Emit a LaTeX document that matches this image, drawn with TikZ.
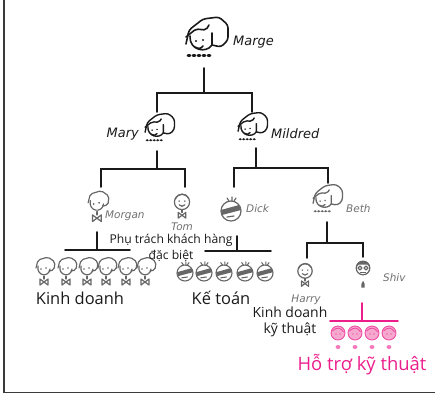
\documentclass[tikz,border=0pt]{standalone}
\usepackage{fontspec}
\setmainfont{Open Sans}
\newfontfamily\handfont{DejaVu Sans}
\definecolor{ink}{HTML}{1A1A1A}
\definecolor{pencil}{HTML}{666666}
\definecolor{namegray}{HTML}{707070}
\definecolor{hot}{HTML}{EC1E8C}
\definecolor{blush}{HTML}{F6A9CE}
\definecolor{framegray}{HTML}{3A3A3A}
\begin{document}
\begin{tikzpicture}[x=1bp,y=-1bp,
  wire/.style={ink, line width=1.9pt, line cap=round},
  pinkwire/.style={hot, line width=1.9pt, line cap=round},
  fig/.style={line join=round, line cap=round},
  who/.style={namegray, font=\handfont\itshape\fontsize{10.5}{11}\selectfont, inner sep=0pt},
  bigwho/.style={ink, font=\handfont\itshape\fontsize{13}{14}\selectfont, inner sep=0pt},
  dept/.style={ink, font=\fontsize{16.5}{18}\selectfont, inner sep=0pt},
  subdept/.style={ink, font=\fontsize{14}{16}\selectfont, inner sep=0pt, align=center},
  note/.style={ink, font=\fontsize{12.2}{16}\selectfont, inner sep=0pt, align=center},
  % woman with big hair and a dotted collar
  lady/.pic={
    \draw[fig, rounded corners=3pt] (-17,6) -- (-14,-8) -- (0,-19) -- (16,-21) -- (25,-13) -- (25,2) -- (18,9) -- (9,7);
    \draw[fig, rounded corners=2pt] (-17,-1) -- (-7,-9) -- (3,-8) -- (6,-13);
    \draw[fig] (-13,-2) .. controls (-14,12) and (3,16) .. (9,7) -- (9,-5);
    \fill (-7,3) circle (1.2); \fill (0,2) circle (1.2);
    \draw[fig] (-8,9) .. controls (-5,11) and (-2,11) .. (0,8);
    \foreach \u in {-14,-9,-4,1,6} \fill (\u,17.5) ellipse (2.4 and 1.5);
  },
  % man with boxy hair and a bow tie
  boy/.pic={
    \draw[fig, rounded corners=2pt] (-9,-2) -- (-7,-10) -- (3,-13) -- (10,-8) -- (9,0) -- (4,1);
    \draw[fig] (-7,-4) .. controls (-9,6) and (4,8) .. (5,-1);
    \fill (-4,-1) circle (0.9); \fill (1,-2) circle (0.9);
    \draw[fig] (-1,6) -- (-1,9);
    \draw[fig] (-5,9) -- (3,15) -- (3,9) -- (-5,15) -- cycle;
  },
  % man with a round head and a bow tie
  roundguy/.pic={
    \draw[fig] (0,0) circle (8);
    \draw[fig] (-7,-3) .. controls (-4,-10) and (4,-10) .. (7,-4);
    \fill (-3,-1) circle (0.9); \fill (3,-1) circle (0.9);
    \draw[fig] (-3,3) .. controls (-1,5) and (1,5) .. (3,3);
    \draw[fig] (0,8) -- (0,11);
    \draw[fig] (-4,11) -- (4,17) -- (4,11) -- (-4,17) -- cycle;
  },
  % man with shades and spiky hair
  hatguy/.pic={
    \draw[fig] (0,0) circle (10);
    \fill (-10,-1) -- (8,-6) -- (10,-1) -- (-9,4) -- cycle;
    \draw[fig] (-4,6) -- (3,5);
    \draw[fig] (-4,-13) -- (-2,-10) (1,-14) -- (1,-10) (5,-13) -- (3,-10);
  },
  % man with a dark hair cap and glasses
  capguy/.pic={
    \draw[fig] (0,0) circle (8);
    \fill (-8,-1) .. controls (-8,-11) and (8,-11) .. (8,-1) -- (5,-4) -- (-5,-4) -- cycle;
    \draw[fig] (-3.5,0) circle (2.3) (3.5,0) circle (2.3);
    \draw[fig] (-3,5) -- (3,5);
    \fill (-2,19) -- (0,15) -- (2,19) -- (2,23) -- (-2,23) -- cycle;
  },
  % support staff head
  tech/.pic={
    \draw[hot!80, fill=blush, line width=0.9pt] (0,0) circle (7);
    \draw[hot!80, line width=0.9pt] (-5.5,-2) .. controls (-1,-6.5) and (3,-5.5) .. (5.5,-1);
    \fill[hot] (-2,1) circle (0.7); \fill[hot] (2,1) circle (0.7);
    \fill[hot!60] (0,14) ellipse (2.4 and 2);
  },
]
\useasboundingbox (0,0) rectangle (435,394);

% frame
\draw[framegray, line width=1.3pt] (4,0) -- (4,392.5) -- (435,392.5);

% --- people ---
\pic[ink, line width=1.6pt] (marge) at (203,38) {lady};
\node[bigwho, anchor=west] (margeN) at (233,42) {Marge};

\pic[ink, line width=1.4pt, scale=0.7] (mary) at (157,128) {lady};
\node[bigwho, anchor=east] (maryN) at (139,134) {Mary};
\pic[ink, line width=1.4pt, scale=0.7] (mildred) at (250,127) {lady};
\node[bigwho, anchor=west] (mildredN) at (271,134) {Mildred};

\pic[pencil, line width=1.2pt, scale=1.1] (morgan) at (98,205) {boy};
\node[who, anchor=west] (morganN) at (105,216) {Morgan};
\pic[pencil, line width=1.2pt, scale=0.95] (tom) at (182,202) {roundguy};
\node[who] (tomN) at (182,227) {Tom};
\pic[pencil, line width=1.2pt, scale=1.0] (dick) at (231,211) {hatguy};
\node[who, anchor=west] (dickN) at (246,209) {Dick};
\pic[pencil, line width=1.3pt, scale=0.7] (beth) at (325,199) {lady};
\node[who, anchor=west] (bethN) at (346,209) {Beth};

\foreach \x [count=\i] in {45,67,88,107,127,146}
  \pic[pencil, line width=1.2pt, scale=1.0] (sales\i) at (\x,270) {boy};
\foreach \x [count=\i] in {185,204,224,245,265}
  \pic[pencil, line width=1.1pt, scale=0.8] (acct\i) at (\x,273) {hatguy};

\pic[pencil, line width=1.2pt, scale=0.9] (harry) at (305,271) {roundguy};
\node[who] (harryN) at (306,300) {Harry};
\pic[pencil, line width=1.2pt, scale=0.85] (shiv) at (363,268) {capguy};
\node[who, anchor=west] (shivN) at (383,278) {Shiv};

\foreach \x [count=\i] in {338,355,372,389}
  \pic (tech\i) at (\x,333) {tech};

% --- connector anchors ---
\coordinate (margeB) at (204,68);
\coordinate (j1) at (204,93);
\coordinate (maryT) at (157,112);
\coordinate (mildredT) at (252,112);

\coordinate (maryB) at (157,151);
\coordinate (j2) at (157,169);
\coordinate (morganT) at (101,187);
\coordinate (tomT) at (185,187);

\coordinate (mildredB) at (256,148);
\coordinate (j3) at (256,168);
\coordinate (dickT) at (234,187);
\coordinate (bethT) at (328,183);

\coordinate (morganB) at (97,232);
\coordinate (j4) at (97,250);
\coordinate (salesL) at (65,250);
\coordinate (salesR) at (130,250);

\coordinate (tomdickB) at (237,236);
\coordinate (j5) at (237,251);
\coordinate (acctL) at (205,251);
\coordinate (acctR) at (271,251);

\coordinate (bethB) at (327,222);
\coordinate (j6) at (327,243);
\coordinate (harryT) at (307,258);
\coordinate (shivT) at (363,257);

\coordinate (shivB) at (362,303);
\coordinate (j7) at (362,321);
\coordinate (techL) at (330,321);
\coordinate (techR) at (398,321);

% --- connectors ---
\draw[wire] (margeB) -- (j1);
\draw[wire] (maryT) |- (j1) -| (mildredT);
\draw[wire] (maryB) -- (j2);
\draw[wire] (morganT) |- (j2) -| (tomT);
\draw[wire] (mildredB) -- (j3);
\draw[wire] (dickT) |- (j3) -| (bethT);
\draw[wire] (morganB) -- (j4);
\draw[wire] (salesL) -- (salesR);
\draw[wire] (tomdickB) -- (j5);
\draw[wire] (acctL) -- (acctR);
\draw[wire] (bethB) -- (j6);
\draw[wire] (harryT) |- (j6) -| (shivT);
\draw[pinkwire] (shivB) -- (j7);
\draw[pinkwire] (techL) -- (techR);

% --- department labels ---
\node[note] (special) at (171,248) {Phụ trách khách hàng\\đặc biệt};
\node[dept] (sales) at (80,298) {Kinh doanh};
\node[dept] (acct) at (221,298) {Kế toán};
\node[subdept] (techsales) at (290,322) {Kinh doanh\\kỹ thuật};
\node[dept, hot, font=\fontsize{18.5}{20}\selectfont] (support) at (362,365) {Hỗ trợ kỹ thuật};
\end{tikzpicture}
\end{document}
